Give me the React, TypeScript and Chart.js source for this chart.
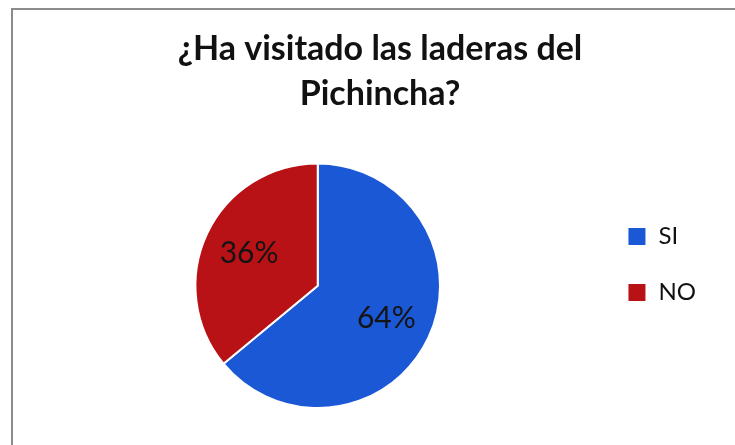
import React, { useEffect, useRef } from "react";
import { Chart, registerables } from "chart.js";

Chart.register(...registerables);

const titleLines = ["¿Ha visitado las laderas del", "Pichincha?"];
const categories = ["SI", "NO"];
const values = [64, 36];
const colors = ["#1b58d6", "#b81216"];

const pctLabels = {
  id: "pctLabels",
  afterDatasetsDraw(chart: any) {
    const ctx = chart.ctx;
    const meta = chart.getDatasetMeta(0);
    const data = chart.data.datasets[0].data as number[];
    const total = data.reduce((a, b) => a + b, 0);
    ctx.save();
    ctx.font = "30px Lato";
    ctx.fillStyle = "#141414";
    ctx.textAlign = "center";
    ctx.textBaseline = "middle";
    meta.data.forEach((arc: any, i: number) => {
      const p = arc.getProps(["x", "y", "startAngle", "endAngle", "outerRadius"], true);
      const mid = (p.startAngle + p.endAngle) / 2;
      const r = p.outerRadius * 0.62;
      const txt = Math.round((data[i] / total) * 100) + "%";
      ctx.fillText(txt, p.x + Math.cos(mid) * r, p.y + Math.sin(mid) * r);
    });
    ctx.restore();
  },
};

// widen the legend box so the pie sits further left of the centred title
const legendWidth = {
  id: "legendWidth",
  beforeLayout(chart: any) {
    const lg = chart.legend;
    if (lg && !lg.__widened) {
      const orig = lg.fit.bind(lg);
      lg.fit = function () {
        orig();
        this.width += 14;
      };
      lg.__widened = true;
    }
  },
};

export default function App() {
  const ref = useRef<HTMLCanvasElement | null>(null);
  useEffect(() => {
    if (!ref.current) return;
    const chart = new Chart(ref.current, {
      type: "pie",
      data: {
        labels: categories,
        datasets: [
          {
            data: values,
            backgroundColor: colors,
            borderColor: "#ffffff",
            borderWidth: 2,
          },
        ],
      },
      options: {
        animation: false,
        responsive: false,
        layout: { padding: { top: 0, left: 40, right: 15, bottom: 36 } },
        plugins: {
          tooltip: { enabled: false },
          title: {
            display: true,
            text: titleLines,
            color: "#111111",
            font: { family: "Lato", size: 34, weight: "bold", lineHeight: 1.33 },
            padding: { top: 26, bottom: 46 },
          },
          legend: {
            position: "right",
            align: "start",
            fullSize: false,
            title: {
              display: true,
              text: " ",
              font: { size: 10, lineHeight: 1.2 },
              padding: { top: 18, bottom: 0 },
            },
            labels: {
              boxWidth: 19,
              boxHeight: 19,
              padding: 32,
              color: "#111111",
              font: { family: "Lato", size: 24 },
            },
          },
        },
      },
      plugins: [legendWidth, pctLabels],
    });
    return () => chart.destroy();
  }, []);
  return (
    <div style={{ position: "fixed", left: 0, top: 0, width: 735, height: 445, background: "#fff" }}>
      <canvas ref={ref} width={735} height={445} style={{ position: "absolute", left: 0, top: 0 }} />
      <div
        style={{
          position: "absolute",
          left: 11,
          top: 8,
          width: 760,
          height: 480,
          borderLeft: "2px solid #8c8c8c",
          borderTop: "2px solid #8c8c8c",
          pointerEvents: "none",
        }}
      />
    </div>
  );
}
